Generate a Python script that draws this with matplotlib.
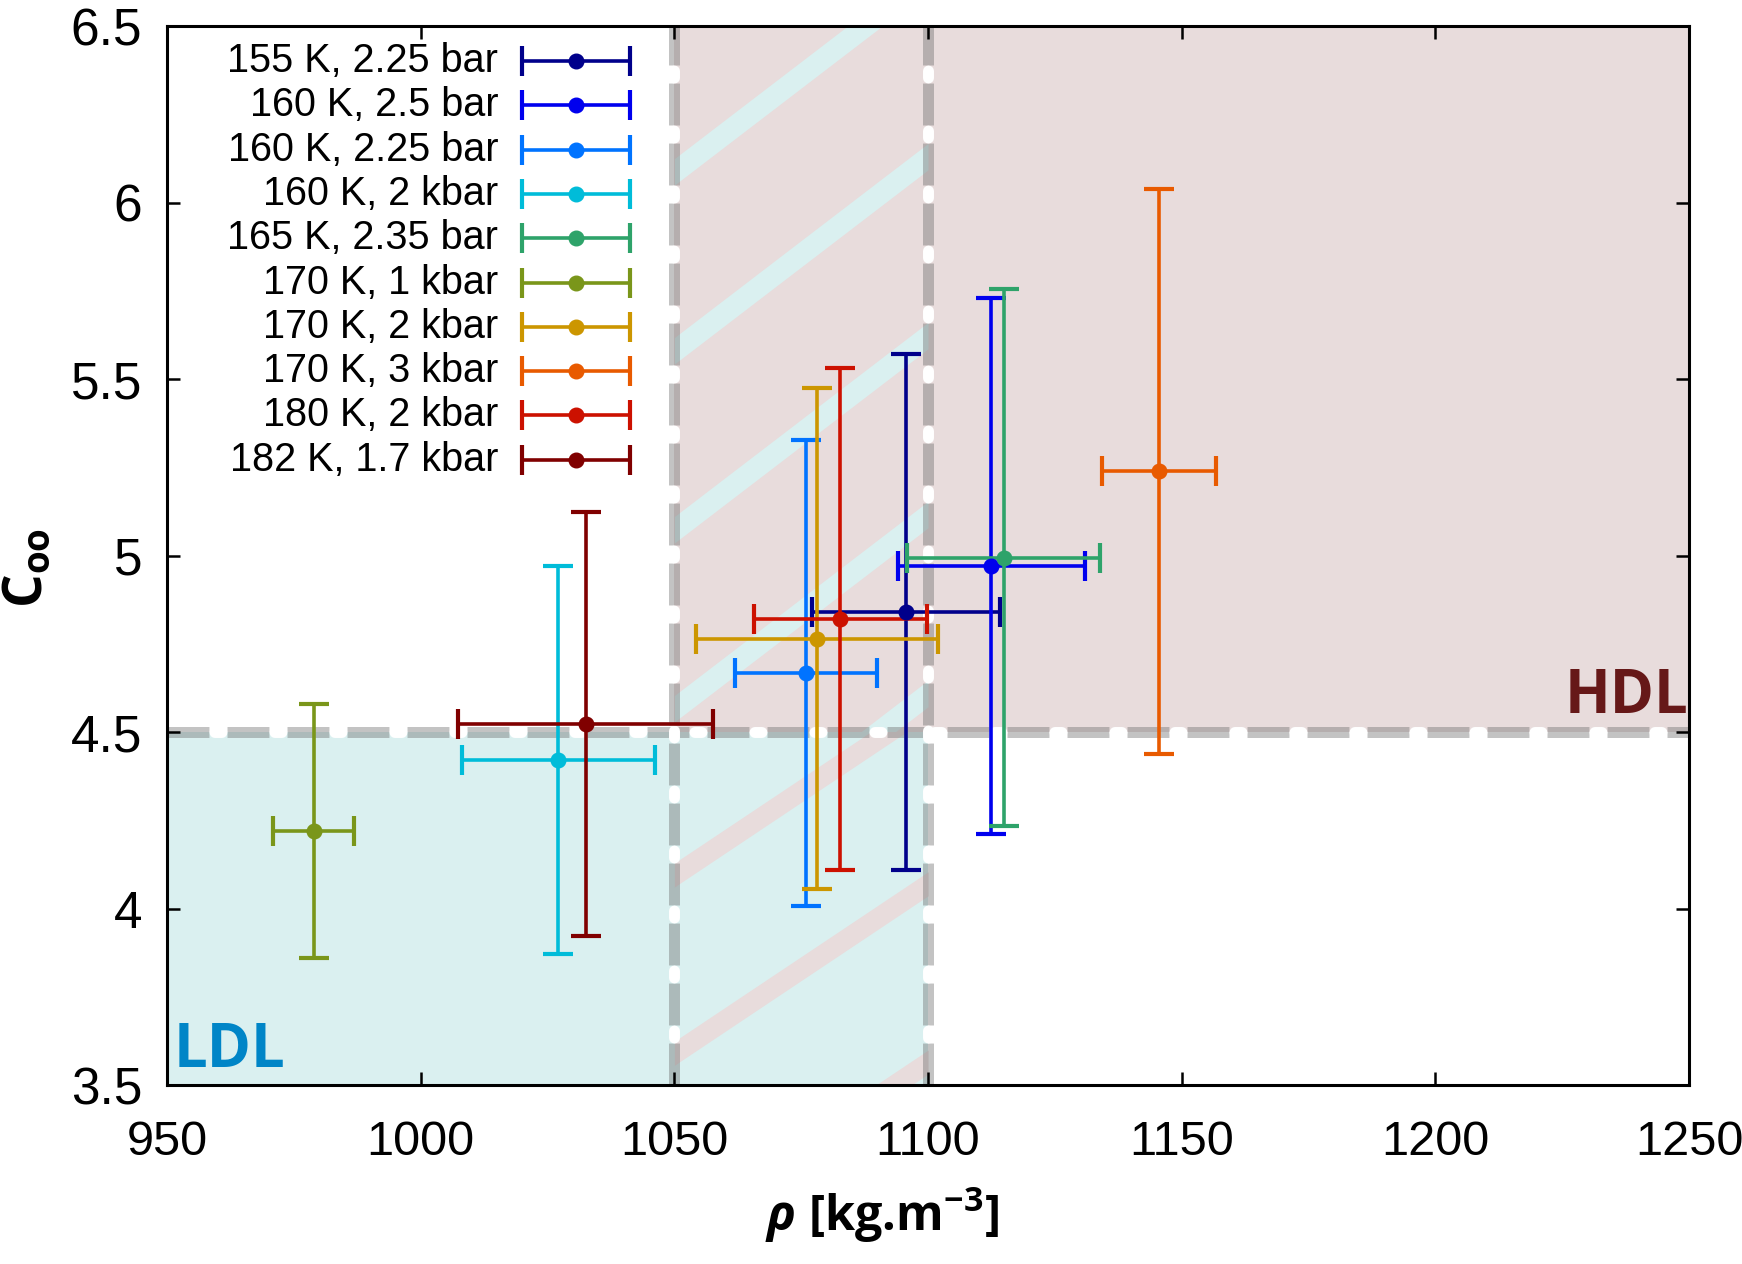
import matplotlib
matplotlib.use("Agg")
import matplotlib.pyplot as plt
from matplotlib.patches import Rectangle
from matplotlib.ticker import FuncFormatter, MultipleLocator
import numpy as np

# ---------------- data ----------------
labels = ["155 K, 2.25 bar", "160 K, 2.5 bar", "160 K, 2.25 bar", "160 K, 2 kbar",
          "165 K, 2.35 bar", "170 K, 1 kbar", "170 K, 2 kbar", "170 K, 3 kbar",
          "180 K, 2 kbar", "182 K, 1.7 kbar"]
rho = [1095.6, 1112.5, 1075.9, 1027.1, 1114.9, 978.9, 1078.1, 1145.5, 1082.7, 1032.5]
coo = [4.84, 4.97, 4.667, 4.42, 4.994, 4.22, 4.764, 5.239, 4.82, 4.522]
rho_err = [18.5, 18.5, 14.0, 19.0, 19.0, 8.0, 23.8, 11.2, 17.0, 25.2]
coo_err = [0.73, 0.76, 0.66, 0.55, 0.76, 0.36, 0.71, 0.80, 0.71, 0.60]
colors = ["#00008B", "#0000EE", "#0073FF", "#00BCD9", "#2EA36A",
          "#7A961A", "#CC9600", "#E85A00", "#CC1100", "#800000"]

# region boundaries
rho_hdl_min = 1050
rho_ldl_max = 1100
coo_split = 4.5
xlim = (950, 1250)
ylim = (3.5, 6.5)

LDL_FILL = "#DAF0F0"
HDL_FILL = "#E8DCDC"

plt.rcParams['mathtext.fontset'] = 'custom'
plt.rcParams['mathtext.rm'] = 'Open Sans:bold'
plt.rcParams['mathtext.bf'] = 'Open Sans:bold'
plt.rcParams['mathtext.it'] = 'Open Sans:bold:italic'
plt.rcParams['mathtext.sf'] = 'Open Sans:bold'
plt.rcParams['lines.scale_dashes'] = False
plt.rcParams['font.family'] = ['Liberation Sans', 'DejaVu Sans']

fig = plt.figure(figsize=(17.42, 12.64), dpi=100)
ax = fig.add_axes([0.0959, 0.1416, 0.8737, 0.8378])
ax.set_xlim(*xlim)
ax.set_ylim(*ylim)

# ---------------- background regions ----------------
ax.add_patch(Rectangle((rho_hdl_min, coo_split), xlim[1] - rho_hdl_min, ylim[1] - coo_split,
                       facecolor=HDL_FILL, edgecolor='none', zorder=0))
ax.add_patch(Rectangle((xlim[0], ylim[0]), rho_ldl_max - xlim[0], coo_split - ylim[0],
                       facecolor=LDL_FILL, edgecolor='none', zorder=0))

# stripes in the overlap band
def stripes(y_lo, y_hi, c0, period, slope, thick, color):
    clip = Rectangle((rho_hdl_min, y_lo), rho_ldl_max - rho_hdl_min, y_hi - y_lo,
                     transform=ax.transData, facecolor='none', edgecolor='none')
    xs = np.array([rho_hdl_min, rho_ldl_max])
    for k in range(-3, 8):
        c = c0 - k * period
        yc = c + slope * (xs - rho_hdl_min)
        coll = ax.fill_between(xs, yc - thick / 2, yc + thick / 2, color=color,
                               linewidth=0, zorder=0.5)
        coll.set_clip_path(clip)

stripes(coo_split, ylim[1], 6.087, 0.507, 0.011, 0.075, LDL_FILL)
stripes(ylim[0], coo_split, 4.095, 0.505, 0.0096, 0.068, HDL_FILL)

# ---------------- dashed boundary lines ----------------
lw_d = 7.9
grey = (105/255, 105/255, 105/255)
grey_ls = (0, (30.2, 13.0))
white_ls = (9.0, (5.0, 38.2))
def dashed(xs, ys):
    ax.plot(xs, ys, color=grey, alpha=0.40, lw=lw_d,
            linestyle=grey_ls, dash_capstyle='butt', zorder=1)
    ax.plot(xs, ys, color='white', lw=lw_d, linestyle=white_ls,
            dash_capstyle='round', zorder=1.1)

dashed(xlim, [coo_split, coo_split])
dashed([rho_hdl_min, rho_hdl_min], ylim)
dashed([rho_ldl_max, rho_ldl_max], ylim)

# ---------------- data error bars ----------------
eb_kw = dict(fmt='o', markersize=10.5, elinewidth=2.6, capsize=10.5, capthick=3.0)
for i in range(len(labels)):
    ax.errorbar([rho[i]], [coo[i]], xerr=[rho_err[i]], yerr=[coo_err[i]],
                color=colors[i], ecolor=colors[i], zorder=3 + i * 0.01, **eb_kw)

# ---------------- manual legend ----------------
leg_text_x = 0.2175
leg_x0, leg_x1 = 0.2332, 0.3042
leg_xc = 0.5 * (leg_x0 + leg_x1)
for i, lab in enumerate(labels):
    yf = (1085 - (61 + i * 44.3)) / 1059
    ax.text(leg_text_x, yf, lab, transform=ax.transAxes, ha='right', va='center',
            fontsize=28.5, zorder=5)
    ax.errorbar([leg_xc], [yf], xerr=[(leg_x1 - leg_x0) / 2], transform=ax.transAxes,
                color=colors[i], ecolor=colors[i], clip_on=False, zorder=5, **eb_kw)

# ---------------- region labels ----------------
ax.text(0.004, 0.003, "LDL", transform=ax.transAxes, ha='left', va='bottom',
        fontsize=43, fontweight='bold', family=['Open Sans', 'DejaVu Sans'],
        color='#0085C7', zorder=4)
ax.text(0.9995, (coo_split - ylim[0]) / (ylim[1] - ylim[0]) + 0.004, "HDL",
        transform=ax.transAxes, ha='right', va='bottom', fontsize=43, fontweight='bold',
        family=['Open Sans', 'DejaVu Sans'], color='#661818', zorder=4)

ax.set_xlim(*xlim)
ax.set_ylim(*ylim)

# ---------------- axes styling ----------------
ax.xaxis.set_major_locator(MultipleLocator(50))
ax.yaxis.set_major_locator(MultipleLocator(0.5))
ax.yaxis.set_major_formatter(FuncFormatter(lambda v, p: f"{v:g}"))
ax.xaxis.set_major_formatter(FuncFormatter(lambda v, p: f"{v:g}"))
ax.tick_params(axis='both', which='major', direction='in', length=9.5, width=1.8,
               top=True, right=True, zorder=6)
ax.tick_params(axis='x', pad=25, labelsize=35)
ax.tick_params(axis='y', pad=18, labelsize=37)
for s in ax.spines.values():
    s.set_linewidth(2.2)
    s.set_zorder(6)

ax.set_xlabel(r"$\rho$ [kg.m$^{\mathrm{-3}}$]", fontsize=35, fontweight='bold',
              family=['Open Sans', 'DejaVu Sans'])
ax.xaxis.set_label_coords(0.470, -0.1228)
ax.xaxis.label.set_va('center')
ax.set_ylabel(r"C$_{\mathrm{oo}}$", fontsize=38, fontweight='bold',
              family=['Open Sans', 'DejaVu Sans'])
ax.yaxis.set_label_coords(-0.0913, 0.488)
ax.yaxis.label.set_va('center')
ax.yaxis.label.set_ha('center')

fig.savefig("out.png", dpi=100)
